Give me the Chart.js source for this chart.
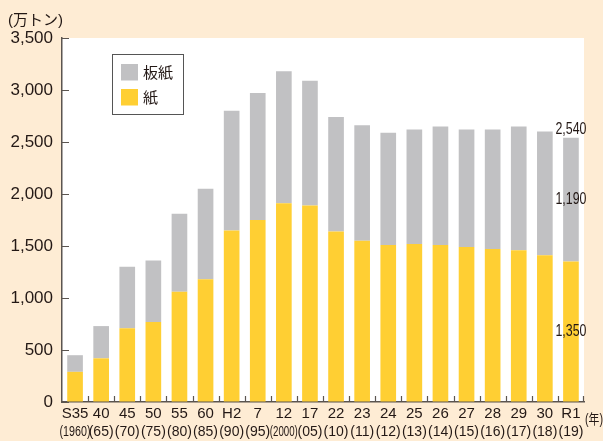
<!DOCTYPE html>
<html>
<head>
<meta charset="utf-8">
<script src="https://cdn.jsdelivr.net/npm/chart.js@4"></script>
<style>
  html, body { margin: 0; padding: 0; background: #feecd4; }
  #wrap { width: 603px; height: 441px; }
</style>
</head>
<body>
<div id="wrap"><canvas id="c" width="603" height="441"></canvas></div>
<script>
// Production of paper and paperboard, 10,000 t
const categories = ['S35','40','45','50','55','60','H2','7','12','17','22','23','24','25','26','27','28','29','30','R1'];
const yearLabels = ['(1960)','(65)','(70)','(75)','(80)','(85)','(90)','(95)','(2000)','(05)','(10)','(11)','(12)','(13)','(14)','(15)','(16)','(17)','(18)','(19)'];
const paper      = [290,420,710,770,1060,1180,1650,1750,1910,1890,1640,1550,1510,1520,1510,1490,1470,1460,1410,1350];
const paperboard = [160,310,590,590,750,870,1150,1220,1270,1200,1100,1110,1080,1100,1140,1130,1150,1190,1190,1190];
const yTicks = [0,500,1000,1500,2000,2500,3000,3500];

const TEXT = '#231815';
const AXIS = '#5b5550';
const YELLOW = '#ffcf33';
const GRAY = '#c1c1c3';
const LATIN = '"Liberation Sans", Arial, sans-serif';
const CJK = '"Noto Sans CJK JP", "Noto Sans CJK SC", sans-serif';
const MIXED = '"Liberation Sans", "Noto Sans CJK JP", sans-serif';
const fmt = v => v.toLocaleString('en-US');

function fitText(ctx, str, x, y, maxW) {
  const w = ctx.measureText(str).width;
  if (w <= maxW) { ctx.fillText(str, x, y); return; }
  ctx.save();
  ctx.translate(x, y);
  ctx.scale(maxW / w, 1);
  ctx.fillText(str, 0, 0);
  ctx.restore();
}

const decor = {
  id: 'decor',
  beforeDraw(chart) {
    const { ctx, chartArea: a } = chart;
    ctx.save();
    ctx.fillStyle = '#feecd4';
    ctx.fillRect(0, 0, chart.width, chart.height);
    ctx.fillStyle = '#ffffff';
    ctx.fillRect(a.left, a.top, a.right - a.left, a.bottom - a.top);
    ctx.restore();
  },
  afterDraw(chart) {
    const { ctx, chartArea: a, scales: { x, y } } = chart;
    ctx.save();
    // inward tick marks
    ctx.strokeStyle = AXIS;
    ctx.lineWidth = 1.2;
    ctx.beginPath();
    yTicks.forEach(v => {
      const py = Math.round(y.getPixelForValue(v)) + 0.5;
      ctx.moveTo(a.left, py); ctx.lineTo(a.left + 7, py);
    });
    for (let i = 0; i + 1 < categories.length; i++) {
      const px = Math.round((x.getPixelForValue(i) + x.getPixelForValue(i + 1)) / 2);
      ctx.moveTo(px + 0.5, a.bottom); ctx.lineTo(px + 0.5, a.bottom - 6);
    }
    ctx.moveTo(a.right - 0.5, a.bottom); ctx.lineTo(a.right - 0.5, a.bottom - 6);
    ctx.stroke();

    // category labels, two lines
    ctx.fillStyle = TEXT;
    ctx.textAlign = 'center';
    ctx.textBaseline = 'middle';
    categories.forEach((c, i) => {
      const px = x.getPixelForValue(i);
      ctx.font = '15px ' + LATIN;
      fitText(ctx, c, px, 414, 28);
      ctx.font = '14px ' + LATIN;
      fitText(ctx, yearLabels[i], px, 432, i === 0 ? 31 : 28);
    });
    ctx.font = '14px ' + MIXED;
    fitText(ctx, '(年)', 594, 420, 18);

    // unit label
    ctx.textAlign = 'left';
    ctx.font = '15px ' + MIXED;
    ctx.fillText('(万トン)', 8, 21);

    // legend
    ctx.strokeStyle = '#555555';
    ctx.lineWidth = 1;
    ctx.strokeRect(112.5, 54.5, 71, 60);
    const items = [[chart.data.datasets[1], 64], [chart.data.datasets[0], 89]];
    items.forEach(([ds, top]) => {
      ctx.fillStyle = ds.backgroundColor;
      ctx.fillRect(121, top, 17, 16.5);
      ctx.fillStyle = TEXT;
      ctx.font = '15px ' + CJK;
      ctx.textBaseline = 'middle';
      ctx.fillText(ds.label, 143, top + 8.5);
    });

    // value labels on the last bar
    const last = categories.length - 1;
    const lx = x.getPixelForValue(last);
    const total = paper[last] + paperboard[last];
    ctx.font = '16px ' + LATIN;
    ctx.textAlign = 'center';
    ctx.fillStyle = TEXT;
    fitText(ctx, fmt(total), lx, y.getPixelForValue(total) - 8, 31);
    fitText(ctx, fmt(paperboard[last]), lx, y.getPixelForValue(paper[last] + paperboard[last] / 2), 31);
    fitText(ctx, fmt(paper[last]), lx, y.getPixelForValue(paper[last] / 2), 31);
    ctx.restore();
  }
};

new Chart(document.getElementById('c'), {
  type: 'bar',
  data: {
    labels: categories,
    datasets: [
      { label: '紙', data: paper, backgroundColor: YELLOW, borderWidth: 0 },
      { label: '板紙', data: paperboard, backgroundColor: GRAY, borderWidth: 0 }
    ]
  },
  options: {
    responsive: false,
    animation: false,
    devicePixelRatio: 1,
    layout: { padding: { top: 38, right: 19, left: 0, bottom: 0 } },
    datasets: { bar: { categoryPercentage: 1, barPercentage: 0.6 } },
    plugins: { legend: { display: false }, tooltip: { enabled: false } },
    scales: {
      x: {
        stacked: true,
        ticks: { display: false },
        grid: { drawOnChartArea: false, drawTicks: false },
        border: { display: true, color: AXIS, width: 1.5 },
        afterFit(s) { s.height = 39; }
      },
      y: {
        stacked: true,
        min: 0, max: 3500,
        afterBuildTicks(s) { s.ticks = yTicks.map(v => ({ value: v })); },
        ticks: {
          color: TEXT, padding: 9,
          font: { family: LATIN, size: 17 },
          callback: v => fmt(v)
        },
        grid: { drawOnChartArea: false, drawTicks: false },
        border: { display: true, color: AXIS, width: 1.5 },
        afterFit(s) { s.width = 62; }
      }
    }
  },
  plugins: [decor]
});
</script>
</body>
</html>
